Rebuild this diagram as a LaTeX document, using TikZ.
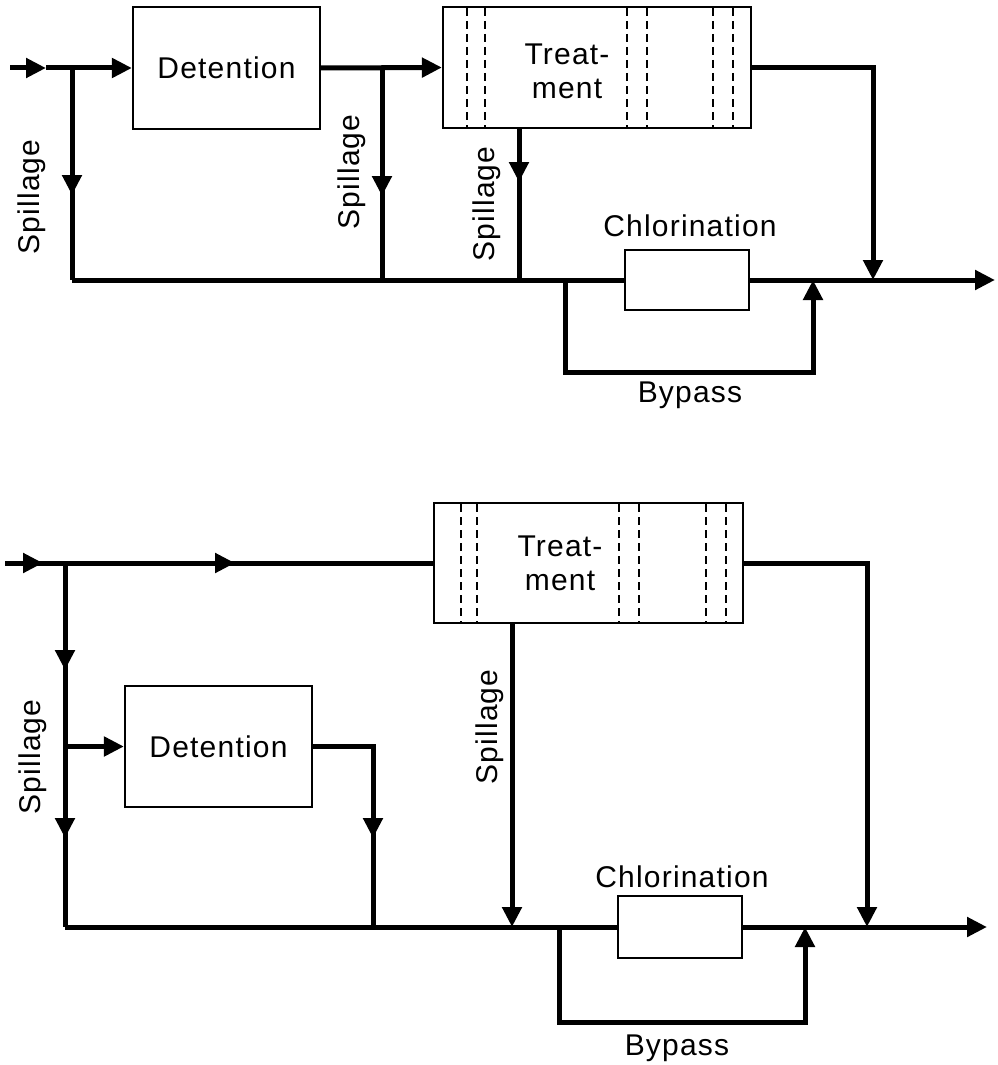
\documentclass[tikz,border=0pt]{standalone}
\usepackage{fontspec}
\setmainfont{Liberation Sans}[LetterSpace=4]
\usetikzlibrary{arrows.meta}
\begin{document}
\begin{tikzpicture}[x=1pt,y=-1pt,
  flow/.style={line width=5pt},
  ar/.style={flow,-{Triangle[length=20pt,width=19pt]}},
  boxd/.style={draw,line width=2.2pt,inner sep=0pt,fill=white,font=\fontsize{30}{34}\selectfont},
  dsh/.style={line width=1.5pt,dash pattern=on 8pt off 5pt},
  lbl/.style={font=\fontsize{30}{34}\selectfont,inner sep=0pt},
]
\useasboundingbox (0,0) rectangle (997,1065);

% ---------------- top diagram ----------------
\node[boxd,minimum width=187pt,minimum height=122pt] (det1) at (226.5,68) {Detention};
\node[boxd,minimum width=308pt,minimum height=121pt] (tr1) at (597,67.5) {};
\foreach \x in {467,485,627,647,713,733} \draw[dsh] (\x,8) -- (\x,127);
\node[lbl,align=center] (tr1t) at (567,71) {Treat-\\ment};
\node[boxd,minimum width=124pt,minimum height=60pt] (ch1) at (687,280) {};
\node[lbl] (ch1t) at (690,226) {Chlorination};
\node[lbl] (bp1t) at (690,395) {Bypass};

\coordinate (in1) at (10,68);
\coordinate (a1) at (46,68);
\coordinate (j1) at (72,68);
\coordinate (b1) at (72,280);
\coordinate (j2) at (382,68);
\coordinate (b2) at (382,280);
\coordinate (s3) at (519,280);
\coordinate (c1) at (873,280);
\coordinate (bp1) at (565,280);
\coordinate (bp2) at (813,280);
\coordinate (e1) at (995,280);

\draw[ar] (in1) -- (a1);
\draw[flow] (a1) -- (j1);
\draw[ar] (j1) -- (det1.west);
\draw[flow] (j1) -- (b1);
\draw[ar] (j1) -- (72,195);
\draw[ar] (det1.east) -- (tr1.west);
\draw[flow] (j2) -- (b2);
\draw[ar] (j2) -- (382,196);
\draw[flow] (tr1.south -| s3) -- (s3);
\draw[ar] (tr1.south -| s3) -- (519,182);
\draw[ar] (tr1.east) -| (c1);
\draw[flow] (b1) -- (ch1.west);
\draw[ar] (ch1.east) -- (e1);
\draw[ar] (bp1) -- ++(0,92) -| (bp2);

\node[lbl,rotate=90] (sp1) at (32,197) {Spillage};
\node[lbl,rotate=90] (sp2) at (352,172) {Spillage};
\node[lbl,rotate=90] (sp3) at (487,204) {Spillage};

% ---------------- bottom diagram ----------------
\node[boxd,minimum width=309pt,minimum height=120pt] (tr2) at (588.5,563) {};
\foreach \x in {461,477,619,639,706,726} \draw[dsh] (\x,504) -- (\x,622);
\node[lbl,align=center] (tr2t) at (560,563) {Treat-\\ment};
\node[boxd,minimum width=187pt,minimum height=121pt] (det2) at (218.5,746.5) {Detention};
\node[boxd,minimum width=124pt,minimum height=62pt] (ch2) at (680,927) {};
\node[lbl] (ch2t) at (682,877) {Chlorination};
\node[lbl] (bp2t) at (677,1048) {Bypass};

\coordinate (in2) at (5,563);
\coordinate (j3) at (65,563);
\coordinate (b3) at (65,927);
\coordinate (b4) at (373,927);
\coordinate (s4) at (512,927);
\coordinate (c2) at (867,927);
\coordinate (bp3) at (559,927);
\coordinate (bp4) at (805,927);
\coordinate (e2) at (987,927);

\draw[flow] (in2) -- (tr2.west);
\draw[ar] (in2) -- (43,563);
\draw[ar] (j3) -- (235,563);
\draw[flow] (j3) -- (b3);
\draw[ar] (j3) -- (65,670);
\draw[ar] (det2.west -| j3) -- (65,838);
\draw[ar] (det2.west -| j3) -- (det2.west);
\draw[flow] (det2.east) -| (b4);
\draw[ar] (det2.east -| b4) -- (373,838);
\draw[ar] (tr2.south -| s4) -- (s4);
\draw[ar] (tr2.east) -| (c2);
\draw[flow] (b3) -- (ch2.west);
\draw[ar] (ch2.east) -- (e2);
\draw[ar] (bp3) -- ++(0,95) -| (bp4);

\node[lbl,rotate=90] (sp4) at (33,757) {Spillage};
\node[lbl,rotate=90] (sp5) at (490,727) {Spillage};
\end{tikzpicture}
\end{document}
